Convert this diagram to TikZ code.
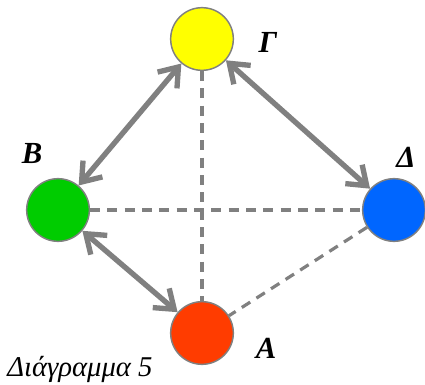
\documentclass[tikz,border=0pt]{standalone}
\usepackage{fontspec}
\setmainfont{Liberation Serif}[BoldItalicFont={* Bold Italic}, ItalicFont={* Italic}]
\newfontfamily\serifgr{Liberation Serif}
\usetikzlibrary{arrows.meta}
\definecolor{edgegray}{RGB}{128,128,128}
\definecolor{ballyellow}{RGB}{255,255,0}
\definecolor{ballgreen}{RGB}{0,204,0}
\definecolor{ballblue}{RGB}{0,102,255}
\definecolor{ballred}{RGB}{255,60,0}
\tikzset{
  ball/.style={circle, draw=edgegray, line width=1.1pt, minimum size=47pt, inner sep=0pt},
  vlabel/.style={inner sep=0pt, font=\serifgr\fontsize{23}{25}\selectfont\bfseries\itshape},
  twoway/.style={edgegray, line width=4pt, {Straight Barb[length=13pt,width=19pt]}-{Straight Barb[length=13pt,width=19pt]}},
  dashline/.style={edgegray, line width=2.4pt, dash pattern=on 7.5pt off 5.5pt}
}

\begin{document}
\begin{tikzpicture}[x=0.75pt,y=0.75pt,yscale=-1,xscale=1]
        \useasboundingbox (0,0) rectangle (425,385);

        % Circles
        \node [ball, fill=ballyellow] (G) at (202,39) {};
        \node [ball, fill=ballgreen] (B) at (58,210) {};
        \node [ball, fill=ballblue] (D) at (394,210) {};
        \node [ball, fill=ballred] (A) at (202,333) {};

        % Dashed Lines
        \draw [dashline] (G) -- (A);
        \draw [dashline] (B) -- (D);
        \draw [dashline] (D) -- (A);

        % Double Arrows
        \draw [twoway] (G) -- (B);
        \draw [twoway] (G) -- (D);
        \draw [twoway] (B) -- (A);

        % Text Node
        \node [vlabel] (lG) at (268,42) {Γ};
        \node [vlabel] (lB) at (32,154) {B};
        \node [vlabel] (lD) at (406,157) {Δ};
        \node [vlabel] (lA) at (266,348) {A};
        \node [anchor=base west, inner sep=0pt, font=\serifgr\fontsize{21.5}{23}\selectfont\itshape] (cap) at (7,376) {Διάγραμμα 5};
\end{tikzpicture}
\end{document}
